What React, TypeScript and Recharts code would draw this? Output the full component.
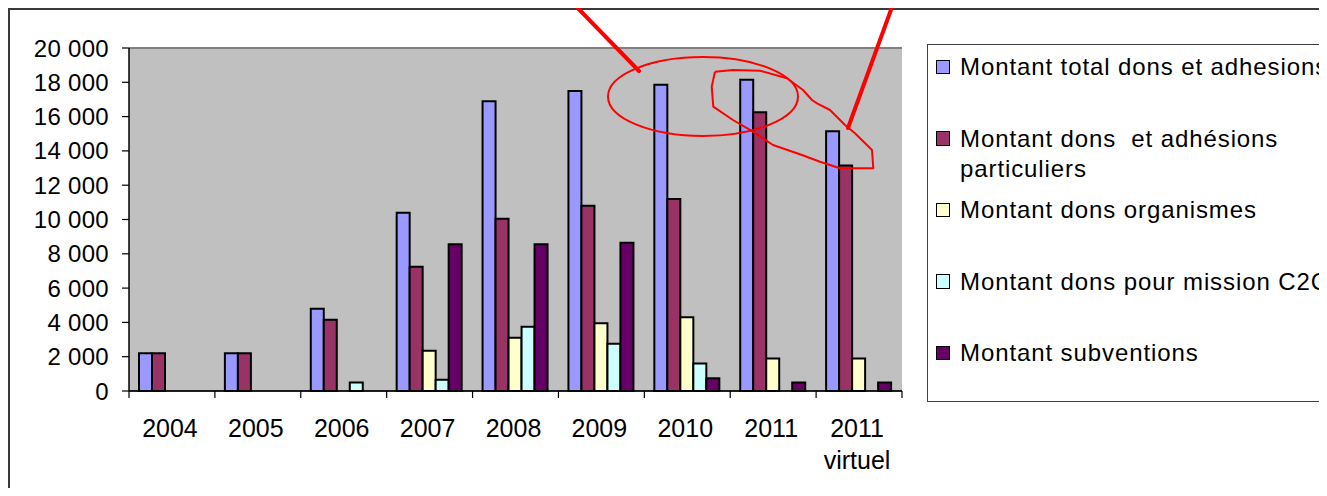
import React from 'react';
import { BarChart, Bar, XAxis, YAxis, CartesianGrid, ReferenceLine } from 'recharts';

// ---- data ----
const categories = ['2004', '2005', '2006', '2007', '2008', '2009', '2010', '2011', '2011\nvirtuel'];
const totalDonsAdhesions = [2200, 2200, 4800, 10400, 16900, 17500, 17850, 18150, 15150];
const donsParticuliers = [2200, 2200, 4150, 7250, 10050, 10800, 11200, 16250, 13150];
const donsOrganismes = [null, null, null, 2350, 3100, 3950, 4300, 1900, 1900];
const donsMissionC2C = [null, null, 500, 650, 3750, 2750, 1600, null, null];
const subventions = [null, null, null, 8550, 8550, 8650, 750, 500, 500];

const seriesNames = [
  'Montant total dons et adhesions',
  'Montant dons  et adhésions particuliers',
  'Montant dons organismes',
  'Montant dons pour mission C2C',
  'Montant subventions',
];
const legendLines = [
  ['Montant total dons et adhesions'],
  ['Montant dons  et adhésions', 'particuliers'],
  ['Montant dons organismes'],
  ['Montant dons pour mission C2C'],
  ['Montant subventions'],
];
const yTicks = [0, 2000, 4000, 6000, 8000, 10000, 12000, 14000, 16000, 18000, 20000];

const seriesKeys = ['total', 'particuliers', 'organismes', 'mission', 'subventions'];
const seriesValues = [totalDonsAdhesions, donsParticuliers, donsOrganismes, donsMissionC2C, subventions];
const seriesColors = ['#9999FF', '#993366', '#FFFFCC', '#CCFFFF', '#660066'];

const data = categories.map((c, i) => {
  const row: Record<string, any> = { category: c };
  seriesKeys.forEach((k, j) => {
    row[k] = seriesValues[j][i];
  });
  return row;
});

// ---- layout ----
const FONT = '"Liberation Sans", Arial, sans-serif';
const CHART_W = 1319;
const CHART_H = 488;
const MARGIN = { top: 40, right: 425, bottom: 45, left: 0 };
const Y_AXIS_W = 121;
const PLOT_W = CHART_W - MARGIN.right - MARGIN.left - Y_AXIS_W;
const BAND = PLOT_W / categories.length;

const fmt = (v: number) =>
  v < 1000 ? String(v) : `${Math.floor(v / 1000)} ${String(v % 1000).padStart(3, '0')}`;

const XTick = (props: any) => {
  const { x, y, payload, index } = props;
  const lines = String(payload.value).split('\n');
  const axisY = y - 7;
  return (
    <g>
      <line x1={x - BAND / 2} x2={x - BAND / 2} y1={axisY} y2={axisY + 7} stroke="#000" strokeWidth={1.2} />
      {index === categories.length - 1 && (
        <line x1={x + BAND / 2} x2={x + BAND / 2} y1={axisY} y2={axisY + 7} stroke="#000" strokeWidth={1.2} />
      )}
      <text x={x - 2} y={y + 39} textAnchor="middle" fontSize={25} fontFamily={FONT} fill="#000">
        {lines.map((l, i) => (
          <tspan key={i} x={x - 2} dy={i === 0 ? 0 : 32}>
            {l}
          </tspan>
        ))}
      </text>
    </g>
  );
};

const Legend = () => (
  <div
    style={{
      position: 'absolute',
      left: 919,
      top: 36,
      width: 430,
      height: 356,
      border: '1.5px solid #404040',
      background: '#fff',
      fontFamily: FONT,
      fontSize: 24,
      letterSpacing: '0.9px',
      color: '#000',
    }}
  >
    {seriesNames.map((name, i) => (
      <div key={name} style={{ position: 'absolute', left: 0, top: 7 + i * 71.5, width: 430, height: 60 }}>
        <div
          style={{
            position: 'absolute',
            left: 7.5,
            top: 7.5,
            width: 12.5,
            height: 12.5,
            background: seriesColors[i],
            border: '1.5px solid #000',
          }}
        />
        <div style={{ position: 'absolute', left: 32, top: 0, lineHeight: '30px', whiteSpace: 'pre' }}>
          {legendLines[i].map((l, k) => (
            <div key={k}>{l}</div>
          ))}
        </div>
      </div>
    ))}
  </div>
);

const freeform = [
  [715, 71.7], [733, 70], [760, 70.7], [787, 78.3], [803, 90], [812, 100], [817, 103.3], [830, 110],
  [845, 125], [855, 133.3], [872, 150], [873.3, 168.3], [840, 168.3], [820, 161.7], [802, 155],
  [773, 145], [753, 131.7], [733, 120], [713.3, 106.7], [711.7, 86.7], [715, 71.7],
];

const Annotations = () => (
  <svg
    width={1327}
    height={496}
    style={{ position: 'absolute', left: -8, top: -8, pointerEvents: 'none' }}
  >
    <line x1={566} y1={-4} x2={639} y2={71} stroke="#FF0000" strokeWidth={4} strokeLinecap="round" />
    <line x1={896} y1={-4} x2={848} y2={128} stroke="#FF0000" strokeWidth={4} strokeLinecap="round" />
    <ellipse cx={703} cy={96.5} rx={95} ry={39.5} fill="none" stroke="#FF0000" strokeWidth={2} />
    <polyline
      points={freeform.map((p) => p.join(',')).join(' ')}
      fill="none"
      stroke="#FF0000"
      strokeWidth={2}
      strokeLinejoin="round"
    />
  </svg>
);

export default function App() {
  return (
    <div style={{ position: 'relative', width: CHART_W, height: CHART_H, marginBottom: -8 }}>
      <div style={{ position: 'absolute', left: 0, top: 0, width: CHART_W, height: CHART_H, overflow: 'hidden', background: '#fff' }}>
        <BarChart
          width={CHART_W}
          height={CHART_H}
          data={data}
          margin={MARGIN}
          barCategoryGap={10}
          barGap={0}
        >
          <CartesianGrid horizontal vertical={false} stroke="#000" strokeWidth={1} fill="#C0C0C0" fillOpacity={1} />
          <XAxis
            dataKey="category"
            height={60}
            interval={0}
            tickSize={7}
            tickMargin={0}
            tickLine={false}
            axisLine={{ stroke: '#000', strokeWidth: 1.5 }}
            tick={<XTick />}
          />
          <YAxis
            yAxisId="left"
            width={Y_AXIS_W}
            domain={[0, 20000]}
            ticks={yTicks}
            interval={0}
            tickFormatter={fmt}
            tickSize={7}
            tickMargin={13}
            axisLine={{ stroke: '#000', strokeWidth: 1.5 }}
            tickLine={{ stroke: '#000', strokeWidth: 1.2 }}
            tick={{ fontSize: 24, fill: '#000', fontFamily: FONT, letterSpacing: '0.3px' }}
          />
          <YAxis
            yAxisId="right"
            orientation="right"
            width={0}
            domain={[0, 20000]}
            tick={false}
            tickLine={false}
            axisLine={{ stroke: '#808080', strokeWidth: 2 }}
          />
          <ReferenceLine yAxisId="left" y={20000} stroke="#808080" strokeWidth={2} />
          {seriesKeys.map((k, i) => (
            <Bar
              key={k}
              yAxisId="left"
              dataKey={k}
              name={seriesNames[i]}
              fill={seriesColors[i]}
              stroke="#000"
              strokeWidth={2}
              isAnimationActive={false}
            />
          ))}
        </BarChart>
        <Legend />
        <div
          style={{
            position: 'absolute',
            left: 0,
            top: 0,
            width: CHART_W + 20,
            height: CHART_H + 20,
            borderTop: '2px solid #3a3a3a',
            borderLeft: '2px solid #3a3a3a',
            pointerEvents: 'none',
          }}
        />
      </div>
      <Annotations />
    </div>
  );
}
